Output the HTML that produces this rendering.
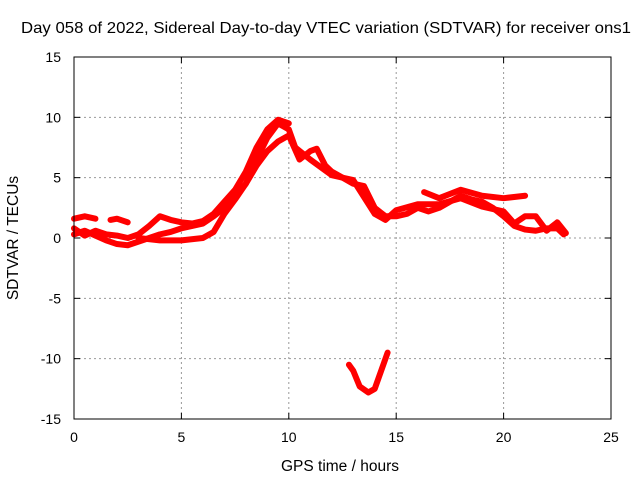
<!DOCTYPE html>
<html><head><meta charset="utf-8"><style>
body{margin:0;background:#fff;}
svg{display:block;font-family:"Liberation Sans",sans-serif;}
</style></head><body>
<svg id="chart" width="640" height="480">
<text x="326" y="33" text-anchor="middle" font-size="16" textLength="610" lengthAdjust="spacingAndGlyphs">Day 058 of 2022, Sidereal Day-to-day VTEC variation (SDTVAR) for receiver ons1</text>
<text x="340" y="471" text-anchor="middle" font-size="15.5">GPS time / hours</text>
<text transform="translate(18,238) rotate(-90)" text-anchor="middle" font-size="15.5">SDTVAR / TECUs</text>
<g id="grid"></g><g id="series"></g>
<rect x="74" y="57" width="537" height="362" fill="none" stroke="#000"/>
</svg>
<script>
const xTicks=[0,5,10,15,20,25];
const yTicks=[-15,-10,-5,0,5,10,15];
const trace1=[[0,0.3],[0.5,0.6],[1,0.2],[1.5,-0.2],[2,-0.5],[2.5,-0.6],[3,-0.3],[3.5,0],[4,0.3],[4.5,0.5],[5,0.8],[5.5,1.0],[6,1.2],[6.5,1.8],[7,2.5],[7.5,3.5],[8,4.5],[8.5,6.5],[9,8.3],[9.5,9.5],[10,9.0],[10.3,7.5]];
const trace2=[[0,0.8],[0.5,0.2],[1,0.6],[1.5,0.3],[2,0.2],[2.5,0],[3,0.3],[3.5,1.0],[4,1.8],[4.5,1.5],[5,1.3],[5.5,1.2],[6,1.4],[6.5,2],[7,3.0],[7.5,4],[8,5.5],[8.5,7.5],[9,9],[9.5,9.8],[10,9.5]];
const trace3=[[3,0],[4,-0.2],[5,-0.2],[6,0],[6.5,0.5],[7,2],[7.5,3.2],[8,4.5],[8.5,6],[9,7.2],[9.5,8],[10,8.5],[10.5,6.5],[11,7.2],[11.3,7.4],[11.7,6],[12,5.5],[12.5,5],[13,4.5],[13.5,4.3],[14,2.5],[14.5,1.8],[15,1.8],[15.5,2],[16,2.5],[16.5,2.2],[17,2.5],[17.5,3],[18,3.5],[18.5,3.2],[19,3],[19.5,2.5],[20,1.8],[20.5,1],[21,0.7],[21.5,0.6],[22,0.8],[22.5,0.8],[22.8,0.3]];
const trace4=[[16.3,3.8],[17,3.3],[18,4],[19,3.5],[20,3.3],[21,3.5]];
const trace5=[[10.3,7.5],[11,6.5],[12,5.2],[13,4.8],[14,2],[14.5,1.5],[15,2.3],[16,2.8],[17,2.8],[18,3.3],[19,2.6],[20,2.2],[20.5,1.2],[21,1.8],[21.5,1.8],[22,0.6],[22.5,1.3],[22.9,0.4]];
const trace6=[[0,1.6],[0.5,1.8],[1,1.6]];
const trace7=[[1.7,1.5],[2,1.6],[2.5,1.3]];
const trace8=[[12.8,-10.5],[13,-11],[13.3,-12.3],[13.7,-12.8],[14,-12.5],[14.3,-11],[14.6,-9.5]];
const allTraces=[trace1,trace2,trace3,trace4,trace5,trace6,trace7,trace8];
const NS="http://www.w3.org/2000/svg";
const X0=74,X1=611,Y0=419,Y1=57;
function sx(v){return X0+(v-0)/(25-0)*(X1-X0);}
function sy(v){return Y0-(v+15)/30*(Y0-Y1);}
const grid=document.getElementById('grid'),ser=document.getElementById('series');
function mk(tag,attrs,parent){const e=document.createElementNS(NS,tag);for(const k in attrs)e.setAttribute(k,attrs[k]);parent.appendChild(e);return e;}
xTicks.forEach(t=>{
  const x=sx(t);
  if(t>0&&t<25){const l=mk('line',{x1:x,x2:x,y1:Y0,y2:Y1,stroke:'#999','stroke-dasharray':'2,3','stroke-width':1},grid);
  
  }
  mk('line',{x1:x,x2:x,y1:Y0,y2:Y0-6,stroke:'#000'},grid);
  mk('line',{x1:x,x2:x,y1:Y1,y2:Y1+6,stroke:'#000'},grid);
  const tx=mk('text',{x:x,y:Y0+23,'text-anchor':'middle','font-size':14},grid);tx.textContent=t;
  
  
});
yTicks.forEach(t=>{
  const y=sy(t);
  if(t>-15&&t<15){const l=mk('line',{x1:X0,x2:X1,y1:y,y2:y,stroke:'#999','stroke-dasharray':'2,3','stroke-width':1},grid);
  
  }
  mk('line',{x1:X0,x2:X0+6,y1:y,y2:y,stroke:'#000'},grid);
  mk('line',{x1:X1,x2:X1-6,y1:y,y2:y,stroke:'#000'},grid);
  const tx=mk('text',{x:X0-13,y:y+5,'text-anchor':'end','font-size':14},grid);tx.textContent=t;
  
  
});
allTraces.forEach(tr=>{
  const p=mk('polyline',{points:tr.map(d=>sx(d[0])+','+sy(d[1])).join(' '),fill:'none',stroke:'#f00','stroke-width':6,'stroke-linejoin':'round','stroke-linecap':'round'},ser);
  
  
});
</script>
</body></html>
